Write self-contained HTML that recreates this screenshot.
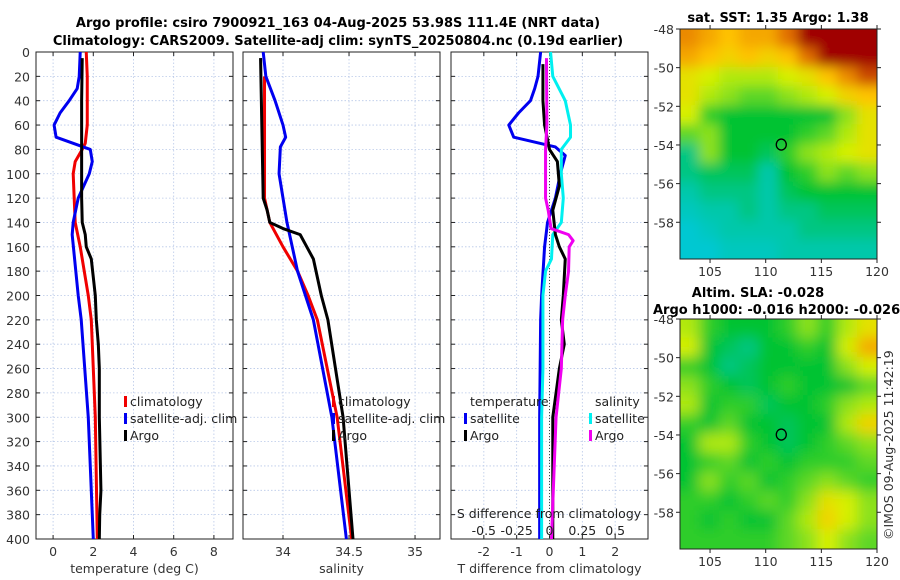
<!DOCTYPE html>
<html><head><meta charset="utf-8"><style>
body{margin:0;background:#fff;}
svg{display:block;font-family:"DejaVu Sans","Liberation Sans",sans-serif;}
</style></head><body>
<svg id="fig" width="900" height="580" viewBox="0 0 900 580">
<g id="maps"></g>
<g id="panels"></g>
<text x="338" y="27" font-size="13" font-weight="bold" text-anchor="middle">Argo profile: csiro 7900921_163 04-Aug-2025 53.98S 111.4E (NRT data)</text>
<text x="338" y="45" font-size="13" font-weight="bold" text-anchor="middle">Climatology: CARS2009. Satellite-adj clim: synTS_20250804.nc (0.19d earlier)</text>
<text x="778" y="22" font-size="13" font-weight="bold" text-anchor="middle">sat. SST: 1.35 Argo: 1.38</text>
<text x="758" y="297" font-size="13" font-weight="bold" text-anchor="middle">Altim. SLA: -0.028</text>
<text x="653" y="314" font-size="13" font-weight="bold">Argo h1000: -0.016 h2000: -0.026</text>
<text transform="translate(893,540) rotate(-90)" font-size="12.5" fill="#333">©IMOS 09-Aug-2025 11:42:19</text>
</svg>
<script>
const NS="http://www.w3.org/2000/svg";
function mk(tag,attrs,parent){const e=document.createElementNS(NS,tag);for(const k in attrs)e.setAttribute(k,attrs[k]);parent.appendChild(e);return e;}

// ---- profile data ----
const depthTicks=[0,20,40,60,80,100,120,140,160,180,200,220,240,260,280,300,320,340,360,380,400];
const tempTicks=[0,2,4,6,8];
const salTicks=[34,34.5,35];
const diffTTicks=[-2,-1,0,1,2];
const diffSTicks=[-0.5,-0.25,0,0.25,0.5];

const argoTDepth=[5,40,80,120,140,150,160,170,200,220,240,260,300,360,380,400];
const argoTVal=[1.45,1.42,1.42,1.42,1.45,1.6,1.65,1.9,2.1,2.15,2.25,2.3,2.3,2.38,2.32,2.3];
const climTDepth=[0,20,60,75,80,90,100,120,140,160,200,220,300,400];
const climTVal=[1.65,1.7,1.7,1.6,1.45,1.1,1.0,1.05,1.1,1.35,1.75,1.9,2.1,2.2];
const satTDepth=[0,20,30,40,50,60,70,75,80,90,100,120,140,150,200,220,300,400];
const satTVal=[1.35,1.3,1.2,0.8,0.35,0.05,0.15,1.0,1.85,1.95,1.8,1.25,1.0,0.95,1.25,1.4,1.75,2.0];

const argoSDepth=[5,120,130,140,145,150,160,170,200,220,300,400];
const argoSVal=[33.83,33.85,33.88,33.9,34.0,34.13,34.18,34.23,34.29,34.34,34.455,34.53];
const climSDepth=[20,120,140,160,180,200,220,300,400];
const climSVal=[33.86,33.86,33.9,34.0,34.11,34.19,34.26,34.41,34.52];
const satSDepth=[0,20,40,60,70,78,100,140,180,220,300,400];
const satSVal=[33.85,33.87,33.94,34.0,34.02,33.98,33.97,34.03,34.11,34.23,34.37,34.48];

const satDTDepth=[0,20,30,40,50,60,70,78,85,100,120,140,160,200,220,300,400];
const satDTVal=[-0.27,-0.35,-0.45,-0.58,-0.94,-1.24,-1.09,0.18,0.48,0.33,0.18,-0.06,-0.15,-0.24,-0.27,-0.3,-0.3];
const argoDTDepth=[10,40,60,80,90,110,130,150,160,170,200,220,240,260,300,400];
const argoDTVal=[-0.2,-0.2,-0.15,0.0,0.24,0.3,0.1,0.18,0.3,0.48,0.42,0.36,0.45,0.3,0.1,0.1];
const satDSDepth=[0,20,40,60,70,80,100,120,140,150,170,180,200,260,300,400];
const satDSVal=[0.008,0.025,0.12,0.16,0.16,0.09,0.09,0.105,0.09,0.025,0.015,-0.03,-0.05,-0.05,-0.06,-0.06];
const argoDSDepth=[5,60,80,120,130,145,150,155,160,180,200,220,260,300,400];
const argoDSVal=[-0.023,-0.02,-0.03,-0.03,-0.01,0.012,0.145,0.18,0.15,0.145,0.12,0.1,0.09,0.05,0.015];

const Y0=52,Y1=539;
const yS=d=>Y0+(d/400)*(Y1-Y0);
const panels=document.getElementById('panels');

function panel(name,x0,x1,dom,xticks,xlab,tickFmt){
  const g=mk('g',{},panels);
  
  
  const xs=v=>x0+(v-dom[0])/(dom[1]-dom[0])*(x1-x0);
  depthTicks.forEach(d=>{
    const l=mk('line',{x1:x0,x2:x1,y1:yS(d),y2:yS(d),stroke:'#b8c8e8','stroke-width':0.8,'stroke-dasharray':'1.5,2'},g);
    
    
    mk('line',{x1:x0,x2:x0+4,y1:yS(d),y2:yS(d),stroke:'#222'},g);
    mk('line',{x1:x1-4,x2:x1,y1:yS(d),y2:yS(d),stroke:'#222'},g);
  });
  xticks.forEach(v=>{
    const l=mk('line',{x1:xs(v),x2:xs(v),y1:Y0,y2:Y1,stroke:'#b8c8e8','stroke-width':0.8,'stroke-dasharray':'1.5,2'},g);
    
    
    mk('line',{x1:xs(v),x2:xs(v),y1:Y1-4,y2:Y1,stroke:'#222'},g);
    mk('line',{x1:xs(v),x2:xs(v),y1:Y0,y2:Y0+4,stroke:'#222'},g);
    const t=mk('text',{x:xs(v),y:556,'font-size':12.5,fill:'#333','text-anchor':'middle'},g);
    t.textContent=tickFmt?tickFmt(v):String(v);
    
    
  });
  const lab=mk('text',{x:(x0+x1)/2,y:573,'font-size':12.5,fill:'#333','text-anchor':'middle'},g);
  lab.textContent=xlab;
  
  
  const fr=mk('rect',{x:x0,y:Y0,width:x1-x0,height:Y1-Y0,fill:'none',stroke:'#222','stroke-width':1},g);
  
  
  return {g,xs};
}
function line(p,ds,vs,color,name,scale){
  const pts=ds.map((d,i)=>p.xs(vs[i]*(scale||1))+','+yS(d)).join(' ');
  const l=mk('polyline',{points:pts,fill:'none',stroke:color,'stroke-width':3,'stroke-linejoin':'round'},p.g);
  
  
}
function legend(p,x,y,color,label){
  if(color){mk('rect',{x:x-6,y:y-10,width:3,height:11,fill:color},p.g);}
  const t=mk('text',{x:x,y:y,'font-size':12.5,fill:'#222'},p.g);
  t.textContent=label;
  
  
}

// depth tick labels
depthTicks.forEach(d=>{
  const t=mk('text',{x:30,y:yS(d)+5,'font-size':12.5,fill:'#333','text-anchor':'end'},panels);
  t.textContent=d;
  
  
});

const p1=panel('temperature-panel',36,233,[-0.85,8.95],tempTicks,'temperature (deg C)');
line(p1,climTDepth,climTVal,'#f00000','climatology-temperature-line');
line(p1,satTDepth,satTVal,'#0000f0','satellite-temperature-line');
line(p1,argoTDepth,argoTVal,'#000','argo-temperature-line');
legend(p1,130,406,'#f00000','climatology');
legend(p1,130,423,'#0000f0','satellite-adj. clim');
legend(p1,130,440,'#000','Argo');

const p2=panel('salinity-panel',243,440,[33.697,35.189],salTicks,'salinity');
line(p2,climSDepth,climSVal,'#f00000','climatology-salinity-line');
line(p2,satSDepth,satSVal,'#0000f0','satellite-salinity-line');
line(p2,argoSDepth,argoSVal,'#000','argo-salinity-line');
legend(p2,338,406,'#f00000','climatology');
legend(p2,338,423,'#0000f0','satellite-adj. clim');
legend(p2,338,440,'#000','Argo');

const p3=panel('difference-panel',451,648,[-3,3],diffTTicks,'T difference from climatology');
const zl=mk('line',{x1:p3.xs(0),x2:p3.xs(0),y1:Y0,y2:Y1,stroke:'#444','stroke-dasharray':'1,2'},p3.g);


line(p3,satDTDepth,satDTVal,'#0000f0','satellite-temperature-diff-line');
line(p3,satDSDepth,satDSVal,'#00f0f0','satellite-salinity-diff-line',4);
line(p3,argoDTDepth,argoDTVal,'#000','argo-temperature-diff-line');
line(p3,argoDSDepth,argoDSVal,'#f000f0','argo-salinity-diff-line',4);
legend(p3,470,406,null,'temperature');
legend(p3,470,423,'#0000f0','satellite');
legend(p3,470,440,'#000','Argo');
legend(p3,595,406,null,'salinity');
legend(p3,595,423,'#00f0f0','satellite');
legend(p3,595,440,'#f000f0','Argo');
const st=mk('text',{x:549,y:518,'font-size':12.5,fill:'#222','text-anchor':'middle'},p3.g);
st.textContent='S difference from climatology';


diffSTicks.forEach(v=>{
  const t=mk('text',{x:p3.xs(v*4),y:535,'font-size':12.5,fill:'#222','text-anchor':'middle'},p3.g);
  t.textContent=String(v);
  
  
});

// ---- maps ----
const sstGrid=[
[0.8,0.75,0.7,0.75,0.75,0.85,1,1,1,1],
[0.75,0.7,0.65,0.7,0.65,0.7,0.85,1,1,1],
[0.6,0.55,0.5,0.5,0.5,0.55,0.6,0.7,0.8,0.9],
[0.6,0.5,0.45,0.4,0.4,0.45,0.5,0.55,0.65,0.7],
[0.55,0.35,0.3,0.3,0.3,0.3,0.3,0.3,0.45,0.6],
[0.4,0.45,0.3,0.3,0.3,0.3,0.35,0.4,0.5,0.6],
[0.2,0.45,0.3,0.3,0.25,0.35,0.45,0.5,0.55,0.6],
[0.2,0.25,0.25,0.25,0.15,0.3,0.35,0.45,0.4,0.45],
[0.15,0.2,0.2,0.2,0.15,0.25,0.3,0.3,0.3,0.3],
[0.1,0.15,0.15,0.2,0.15,0.2,0.2,0.25,0.25,0.25],
[0.05,0.1,0.15,0.15,0.15,0.15,0.2,0.2,0.2,0.2],
[0.05,0.05,0.1,0.1,0.1,0.15,0.15,0.15,0.15,0.15]];
const slaGrid=[
[0.5,0.35,0.3,0.3,0.3,0.35,0.45,0.35,0.5,0.6],
[0.55,0.3,0.25,0.2,0.3,0.3,0.35,0.3,0.55,0.75],
[0.35,0.3,0.2,0.25,0.3,0.3,0.3,0.3,0.45,0.55],
[0.45,0.35,0.3,0.25,0.3,0.35,0.3,0.3,0.3,0.4],
[0.5,0.3,0.35,0.35,0.25,0.3,0.3,0.35,0.45,0.5],
[0.35,0.3,0.4,0.3,0.3,0.25,0.3,0.3,0.5,0.65],
[0.3,0.5,0.5,0.35,0.3,0.25,0.3,0.35,0.4,0.45],
[0.3,0.35,0.4,0.3,0.35,0.3,0.35,0.35,0.35,0.4],
[0.3,0.45,0.35,0.4,0.3,0.35,0.4,0.45,0.4,0.35],
[0.35,0.35,0.3,0.35,0.4,0.35,0.45,0.6,0.55,0.45],
[0.35,0.3,0.35,0.3,0.3,0.4,0.5,0.65,0.55,0.45],
[0.35,0.35,0.35,0.35,0.35,0.4,0.45,0.55,0.45,0.4]];
const lonTicks=[105,110,115,120];
const latTicks1=[-48,-50,-52,-54,-56,-58];
const latTicks2=[-48,-50,-52,-54,-56,-58];
const floatLon=111.4, floatLat=-53.98;

const stops=[[0,[0,200,230]],[0.15,[0,200,170]],[0.3,[0,195,50]],[0.45,[140,225,30]],[0.55,[215,240,0]],[0.7,[255,195,0]],[0.85,[225,110,0]],[1,[160,0,0]]];
function cmap(v){for(let i=1;i<stops.length;i++){if(v<=stops[i][0]){const a=stops[i-1],b=stops[i],t=(v-a[0])/(b[0]-a[0]);return 'rgb('+a[1].map((c,k)=>Math.round(c+(b[1][k]-c)*t)).join(',')+')';}}return 'rgb(160,0,0)';}

const maps=document.getElementById('maps');
function drawMap(name,grid,y0,y1,latTicks,blur){
  const x0=680,x1=877,lon0=102.3,lon1=120,lat0=-48,lat1=-59.9;
  const xs=v=>x0+(v-lon0)/(lon1-lon0)*(x1-x0);
  const ys=v=>y0+(v-lat0)/(lat1-lat0)*(y1-y0);
  const g=mk('g',{},maps);
  
  
  const cid='clip'+name;
  const cp=mk('clipPath',{id:cid},g);mk('rect',{x:x0,y:y0,width:x1-x0,height:y1-y0},cp);
  const fid='blur'+name;
  const f=mk('filter',{id:fid,filterUnits:'userSpaceOnUse',x:x0-30,y:y0-30,width:x1-x0+60,height:y1-y0+60},g);mk('feGaussianBlur',{stdDeviation:blur},f);
  const inner=mk('g',{'clip-path':'url(#'+cid+')'},g);
  const hm=mk('g',{filter:'url(#'+fid+')'},inner);
  const rows=grid.length,cols=grid[0].length;
  const cw=(x1-x0)/cols,ch=(y1-y0)/rows;
  grid.forEach((row,r)=>row.forEach((v,c)=>{
    const cell=mk('rect',{x:x0+c*cw-0.5-(c==0?15:0),y:y0+r*ch-0.5-(r==0?15:0),width:cw+1+(c==0||c==cols-1?15:0),height:ch+1+(r==0||r==rows-1?15:0),fill:cmap(v)},hm);
    
    
  }));
  mk('rect',{x:x0,y:y0,width:x1-x0,height:y1-y0,fill:'none',stroke:'#222'},g);
  lonTicks.forEach(v=>{
    mk('line',{x1:xs(v),x2:xs(v),y1:y1,y2:y1+4,stroke:'#222'},g);
    mk('line',{x1:xs(v),x2:xs(v),y1:y0,y2:y0-4,stroke:'#222'},g);
    const t=mk('text',{x:xs(v),y:y1+17,'font-size':12.5,fill:'#333','text-anchor':'middle'},g);
    t.textContent=v;
    
    
  });
  latTicks.forEach(v=>{
    mk('line',{x1:x0-4,x2:x0,y1:ys(v),y2:ys(v),stroke:'#222'},g);
    mk('line',{x1:x1,x2:x1+4,y1:ys(v),y2:ys(v),stroke:'#222'},g);
    const t=mk('text',{x:x0-6,y:ys(v)+5,'font-size':12.5,fill:'#333','text-anchor':'end'},g);
    t.textContent=v;
    
    
  });
  const m=mk('ellipse',{cx:xs(floatLon),cy:ys(floatLat),rx:5,ry:5.5,fill:'none',stroke:'#000','stroke-width':1.3},g);
  
  
}
drawMap('sst-map',sstGrid,29,259,latTicks1,6);
drawMap('sla-map',slaGrid,319,549,latTicks2,7);
</script>
</body></html>
